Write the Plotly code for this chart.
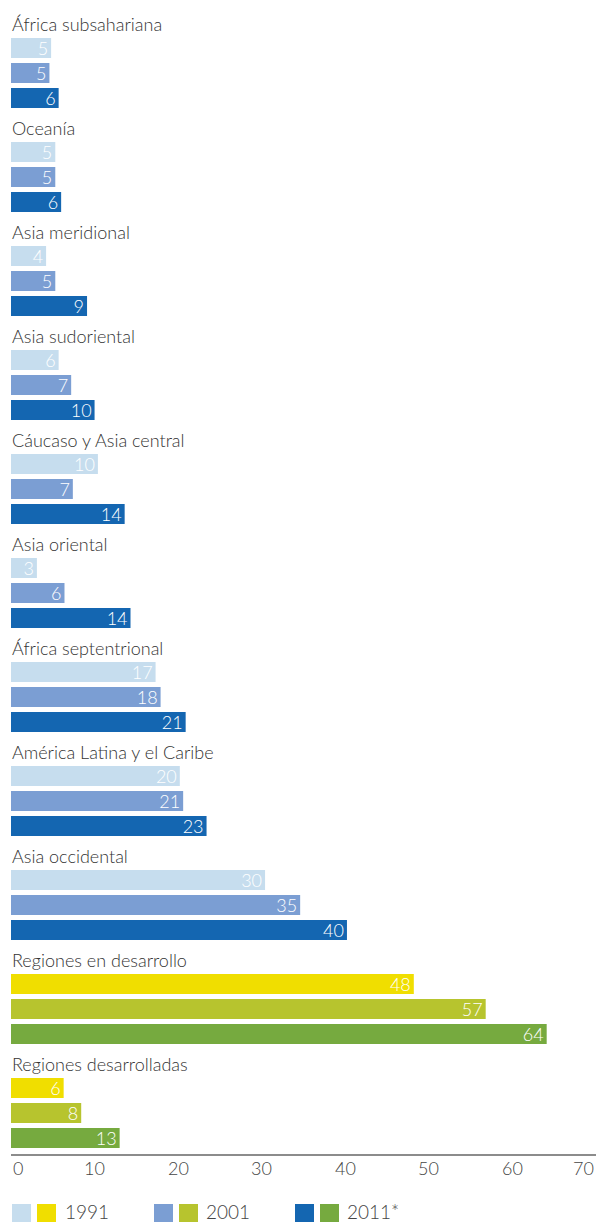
import plotly.graph_objects as go

regions = ["África subsahariana", "Oceanía", "Asia meridional", "Asia sudoriental",
           "Cáucaso y Asia central", "Asia oriental", "África septentrional",
           "América Latina y el Caribe", "Asia occidental",
           "Regiones en desarrollo", "Regiones desarrolladas"]
years = ["1991", "2001", "2011*"]
v1991 = [4.8, 5.3, 4.2, 5.7, 10.4, 3.1, 17.3, 20.2, 30.4, 48.2, 6.3]
v2001 = [4.6, 5.3, 5.3, 7.2, 7.4, 6.4, 17.9, 20.6, 34.6, 56.8, 8.4]
v2011 = [5.7, 6.0, 9.1, 10.0, 13.6, 14.3, 20.9, 23.4, 40.2, 64.1, 13.0]
group_kind = ["r"] * 9 + ["d", "d"]
ticks = [0, 10, 20, 30, 40, 50, 60, 70]

blues = ["#C6DDEE", "#7B9ED3", "#1466B1"]
greens = ["#F0DE00", "#B7C42E", "#76AA3F"]

W, H = 596, 1222
ML, MB = 11, 68
PH = H - MB
G = 104 / 25.0  # group pitch in row units

fig = go.Figure()
series = [v1991, v2001, v2011]
for j, vals in enumerate(series):
    ys = [i * G + j for i in range(len(regions))]
    cols = [blues[j] if k == "r" else greens[j] for k in group_kind]
    fig.add_trace(go.Bar(
        x=vals, y=ys, orientation="h", width=0.8,
        marker=dict(color=cols, line=dict(width=0)),
        texttemplate="%{x:.0f}", textposition="inside", insidetextanchor="end",
        textangle=0, cliponaxis=False,
        textfont=dict(color="white", size=18, family="Lato", weight=300),
        showlegend=False, hoverinfo="skip",
    ))

for i, name in enumerate(regions):
    fig.add_annotation(x=0, y=i * G - 0.98, xref="x", yref="y", text=name,
                       showarrow=False, xanchor="left", yanchor="middle",
                       xshift=-1,
                       font=dict(size=18, color="#333333", family="Lato", weight=300))

for t in ticks:
    anchor = "left" if t == ticks[0] else ("right" if t == ticks[-1] else "center")
    fig.add_annotation(x=t, y=(PH - 1168) / PH, xref="x", yref="paper", text=str(t),
                       showarrow=False, xanchor=anchor, yanchor="middle",
                       font=dict(size=18, color="#444444", family="Lato", weight=300))

# legend
def px_x(p):
    return (p - ML) / (W - ML)

def px_y(p):
    return (PH - p) / PH

leg = [(12, 37, 64, years[0]), (154, 179, 205, years[1]), (295, 320, 346, years[2])]
for j, (a, b, tx, lab) in enumerate(leg):
    for xs, col in ((a, blues[j]), (b, greens[j])):
        fig.add_shape(type="rect", xref="paper", yref="paper",
                      x0=px_x(xs), x1=px_x(xs + 19), y0=px_y(1204), y1=px_y(1224),
                      fillcolor=col, line=dict(width=0))
    fig.add_annotation(x=px_x(tx), y=px_y(1211), xref="paper", yref="paper", text=lab,
                       showarrow=False, xanchor="left", yanchor="middle", borderpad=0,
                       font=dict(size=19, color="#444444", family="Lato", weight=300))

fig.update_layout(
    width=W, height=H, margin=dict(l=ML, r=0, t=0, b=MB),
    paper_bgcolor="white", plot_bgcolor="white",
    barmode="overlay",
    uniformtext=dict(minsize=18, mode="show"),
    xaxis=dict(range=[0, 70], showgrid=False, zeroline=False, showticklabels=False,
               showline=True, linecolor="#8c8c8c", linewidth=2, ticks="", fixedrange=True),
    yaxis=dict(range=[(PH - 48) / 25.0, -48 / 25.0], showgrid=False, zeroline=False,
               showticklabels=False, showline=False, ticks=""),
    font=dict(family="Lato"),
)

fig.write_html("out.html", config={"displayModeBar": False},
               post_script="document.body.style.margin='0';document.body.style.overflow='hidden';")
